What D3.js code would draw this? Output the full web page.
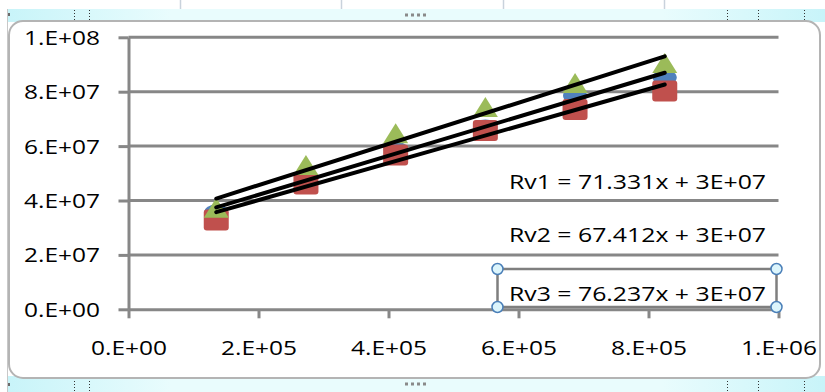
<!DOCTYPE html>
<html>
<head>
<meta charset="utf-8">
<script src="https://cdn.jsdelivr.net/npm/d3@7"></script>
<style>
  html, body { margin: 0; padding: 0; background: #ffffff; }
  svg { display: block; }
</style>
</head>
<body>
<svg id="chart" width="825" height="392"></svg>
<script>
// ---- data ----
const xValues = [135000, 273000, 411000, 549000, 687000, 825000];
const rv1Values = [35600000, 48300000, 58800000, 66800000, 78500000, 85200000];
const rv2Values = [32800000, 46100000, 56700000, 65700000, 73500000, 80300000];
const rv3Values = [37000000, 52700000, 64400000, 74000000, 82800000, 90200000];
const seriesNames = ["Rv1", "Rv2", "Rv3"];
const equationLabels = ["Rv1 = 71.331x + 3E+07", "Rv2 = 67.412x + 3E+07", "Rv3 = 76.237x + 3E+07"];
const yTickValues = [0, 20000000, 40000000, 60000000, 80000000, 100000000];
const yTickLabels = ["0.E+00", "2.E+07", "4.E+07", "6.E+07", "8.E+07", "1.E+08"];
const xTickValues = [0, 200000, 400000, 600000, 800000, 1000000];
const xTickLabels = ["0.E+00", "2.E+05", "4.E+05", "6.E+05", "8.E+05", "1.E+06"];

const W = 825, H = 392;
const svg = d3.select("#chart");
const FONT = "'Open Sans', 'DejaVu Sans', sans-serif";
const FONT_SIZE = "19.5px";
const gridColor = "#878787";

// ---- spreadsheet surroundings ----
const defs = svg.append("defs");
const grad = defs.append("linearGradient").attr("id", "strip").attr("x1", 0).attr("x2", 1).attr("y1", 0).attr("y2", 0);
grad.append("stop").attr("offset", "0%").attr("stop-color", "#c8f4f9");
grad.append("stop").attr("offset", "20%").attr("stop-color", "#e9fcfd");
grad.append("stop").attr("offset", "80%").attr("stop-color", "#e9fcfd");
grad.append("stop").attr("offset", "100%").attr("stop-color", "#c8f4f9");

svg.append("rect").attr("x", 0).attr("y", 0).attr("width", W).attr("height", H).attr("fill", "#ffffff");
[180, 341, 503, 664].forEach(cx => {
  svg.append("line").attr("x1", cx + 0.5).attr("x2", cx + 0.5).attr("y1", 0).attr("y2", 9)
    .attr("stroke", "#c9d2dc").attr("stroke-width", 1.5);
});
svg.append("rect").attr("x", 8).attr("y", 9).attr("width", W - 8).attr("height", 13).attr("fill", "url(#strip)");
svg.append("rect").attr("x", 8).attr("y", 376).attr("width", W - 8).attr("height", 16).attr("fill", "url(#strip)");
svg.append("line").attr("x1", 7.5).attr("x2", 7.5).attr("y1", 9).attr("y2", H).attr("stroke", "#c8c8c8").attr("stroke-width", 1);
svg.append("rect").attr("x", 8).attr("y", 13).attr("width", 2).attr("height", 3).attr("fill", "#6a6a6a");
svg.append("rect").attr("x", 8).attr("y", 383).attr("width", 2).attr("height", 3).attr("fill", "#6a6a6a");
[74, 89, 727, 758, 804].forEach(cx => {
  [[10, 20], [378, 391]].forEach(([a, b]) => {
    svg.append("line").attr("x1", cx + 0.5).attr("x2", cx + 0.5).attr("y1", a).attr("y2", b)
      .attr("stroke", "#333").attr("stroke-width", 1).attr("stroke-dasharray", "1,2");
  });
});
[[15], [384]].forEach(([cy]) => {
  for (let i = 0; i < 4; i++) {
    svg.append("rect").attr("x", 405 + i * 6).attr("y", cy - 1.5).attr("width", 3).attr("height", 3).attr("fill", "#8a8a8a");
  }
});

// chart frame
svg.append("rect").attr("x", 9).attr("y", 21).attr("width", 811).attr("height", 357)
  .attr("rx", 14).attr("ry", 14).attr("fill", "#ffffff").attr("stroke", "#b4b4b4").attr("stroke-width", 2);

// ---- scales ----
const x = d3.scaleLinear().domain([0, 1000000]).range([128.5, 778.5]);
const y = d3.scaleLinear().domain([0, 100000000]).range([309.3, 37.3]);

// gridlines
svg.append("g").selectAll("line").data(yTickValues.filter(v => v > 0)).join("line")
  .attr("x1", x(0)).attr("x2", x(1000000))
  .attr("y1", d => y(d)).attr("y2", d => y(d))
  .attr("stroke", gridColor).attr("stroke-width", 3);

// y axis
const yAxis = svg.append("g").attr("transform", `translate(${x(0)},0)`)
  .call(d3.axisLeft(y).tickValues(yTickValues).tickSize(10).tickSizeOuter(0).tickPadding(18.5)
    .tickFormat((d, i) => yTickLabels[i]));
// x axis
const xAxis = svg.append("g").attr("transform", `translate(0,${y(0)})`)
  .call(d3.axisBottom(x).tickValues(xTickValues).tickSize(9).tickSizeOuter(0).tickPadding(23)
    .tickFormat((d, i) => xTickLabels[i]));

[yAxis, xAxis].forEach(g => {
  g.select(".domain").attr("stroke", gridColor).attr("stroke-width", 3);
  g.selectAll(".tick line").attr("stroke", gridColor).attr("stroke-width", 3);
  g.selectAll(".tick text").attr("fill", "#000").style("font-family", FONT).style("font-size", FONT_SIZE)
    .attr("textLength", 76).attr("lengthAdjust", "spacingAndGlyphs");
});
yAxis.selectAll(".tick text").attr("dy", "0.36em");

// ---- markers ----
const data = xValues.map((xv, i) => ({ x: xv, rv1: rv1Values[i], rv2: rv2Values[i], rv3: rv3Values[i] }));
const marks = svg.append("g");
// Rv1: blue ellipses
marks.append("g").selectAll("ellipse").data(data).join("ellipse")
  .attr("cx", d => x(d.x)).attr("cy", d => y(d.rv1)).attr("rx", 12).attr("ry", 8)
  .attr("fill", "#4f81bd");
// Rv2: red squares
marks.append("g").selectAll("rect").data(data).join("rect")
  .attr("x", d => x(d.x) - 12.5).attr("y", d => y(d.rv2) - 10.5).attr("width", 25).attr("height", 21)
  .attr("rx", 3).attr("fill", "#c0504d");
// Rv3: green triangles
marks.append("g").selectAll("path").data(data).join("path")
  .attr("d", d => {
    const cx = x(d.x), cy = y(d.rv3);
    return `M${cx},${cy - 11}L${cx + 12.5},${cy + 9}L${cx - 12.5},${cy + 9}Z`;
  })
  .attr("fill", "#9bbb59");

// ---- linear trendlines (least squares) ----
function fit(xs, ys) {
  const mx = d3.mean(xs), my = d3.mean(ys);
  let sxy = 0, sxx = 0;
  xs.forEach((xv, i) => { sxy += (xv - mx) * (ys[i] - my); sxx += (xv - mx) * (xv - mx); });
  const m = sxy / sxx;
  return { m, b: my - m * mx };
}
const x0 = d3.min(xValues), x1 = d3.max(xValues);
[rv1Values, rv2Values, rv3Values].forEach(vals => {
  const f = fit(xValues, vals);
  svg.append("line")
    .attr("x1", x(x0)).attr("y1", y(f.m * x0 + f.b))
    .attr("x2", x(x1)).attr("y2", y(f.m * x1 + f.b))
    .attr("stroke", "#000").attr("stroke-width", 4).attr("stroke-linecap", "round");
});

// ---- equation labels ----
const eqY = [189, 242, 300.5];
svg.append("g").selectAll("text").data(equationLabels).join("text")
  .attr("x", 509).attr("y", (d, i) => eqY[i])
  .attr("textLength", 257).attr("lengthAdjust", "spacingAndGlyphs")
  .style("font-family", FONT).style("font-size", FONT_SIZE).attr("fill", "#000")
  .text(d => d);

// selected label box with handles
const box = { x0: 497.5, y0: 269, x1: 776.5, y1: 307 };
svg.append("rect").attr("x", box.x0).attr("y", box.y0).attr("width", box.x1 - box.x0).attr("height", box.y1 - box.y0)
  .attr("fill", "none").attr("stroke", "#7f7f7f").attr("stroke-width", 2.5);
[[box.x0, box.y0], [box.x1, box.y0], [box.x0, box.y1], [box.x1, box.y1]].forEach(([cx, cy]) => {
  svg.append("circle").attr("cx", cx).attr("cy", cy).attr("r", 5.5)
    .attr("fill", "#dcf5fc").attr("stroke", "#4a7fb8").attr("stroke-width", 1.5);
});
</script>
</body>
</html>
